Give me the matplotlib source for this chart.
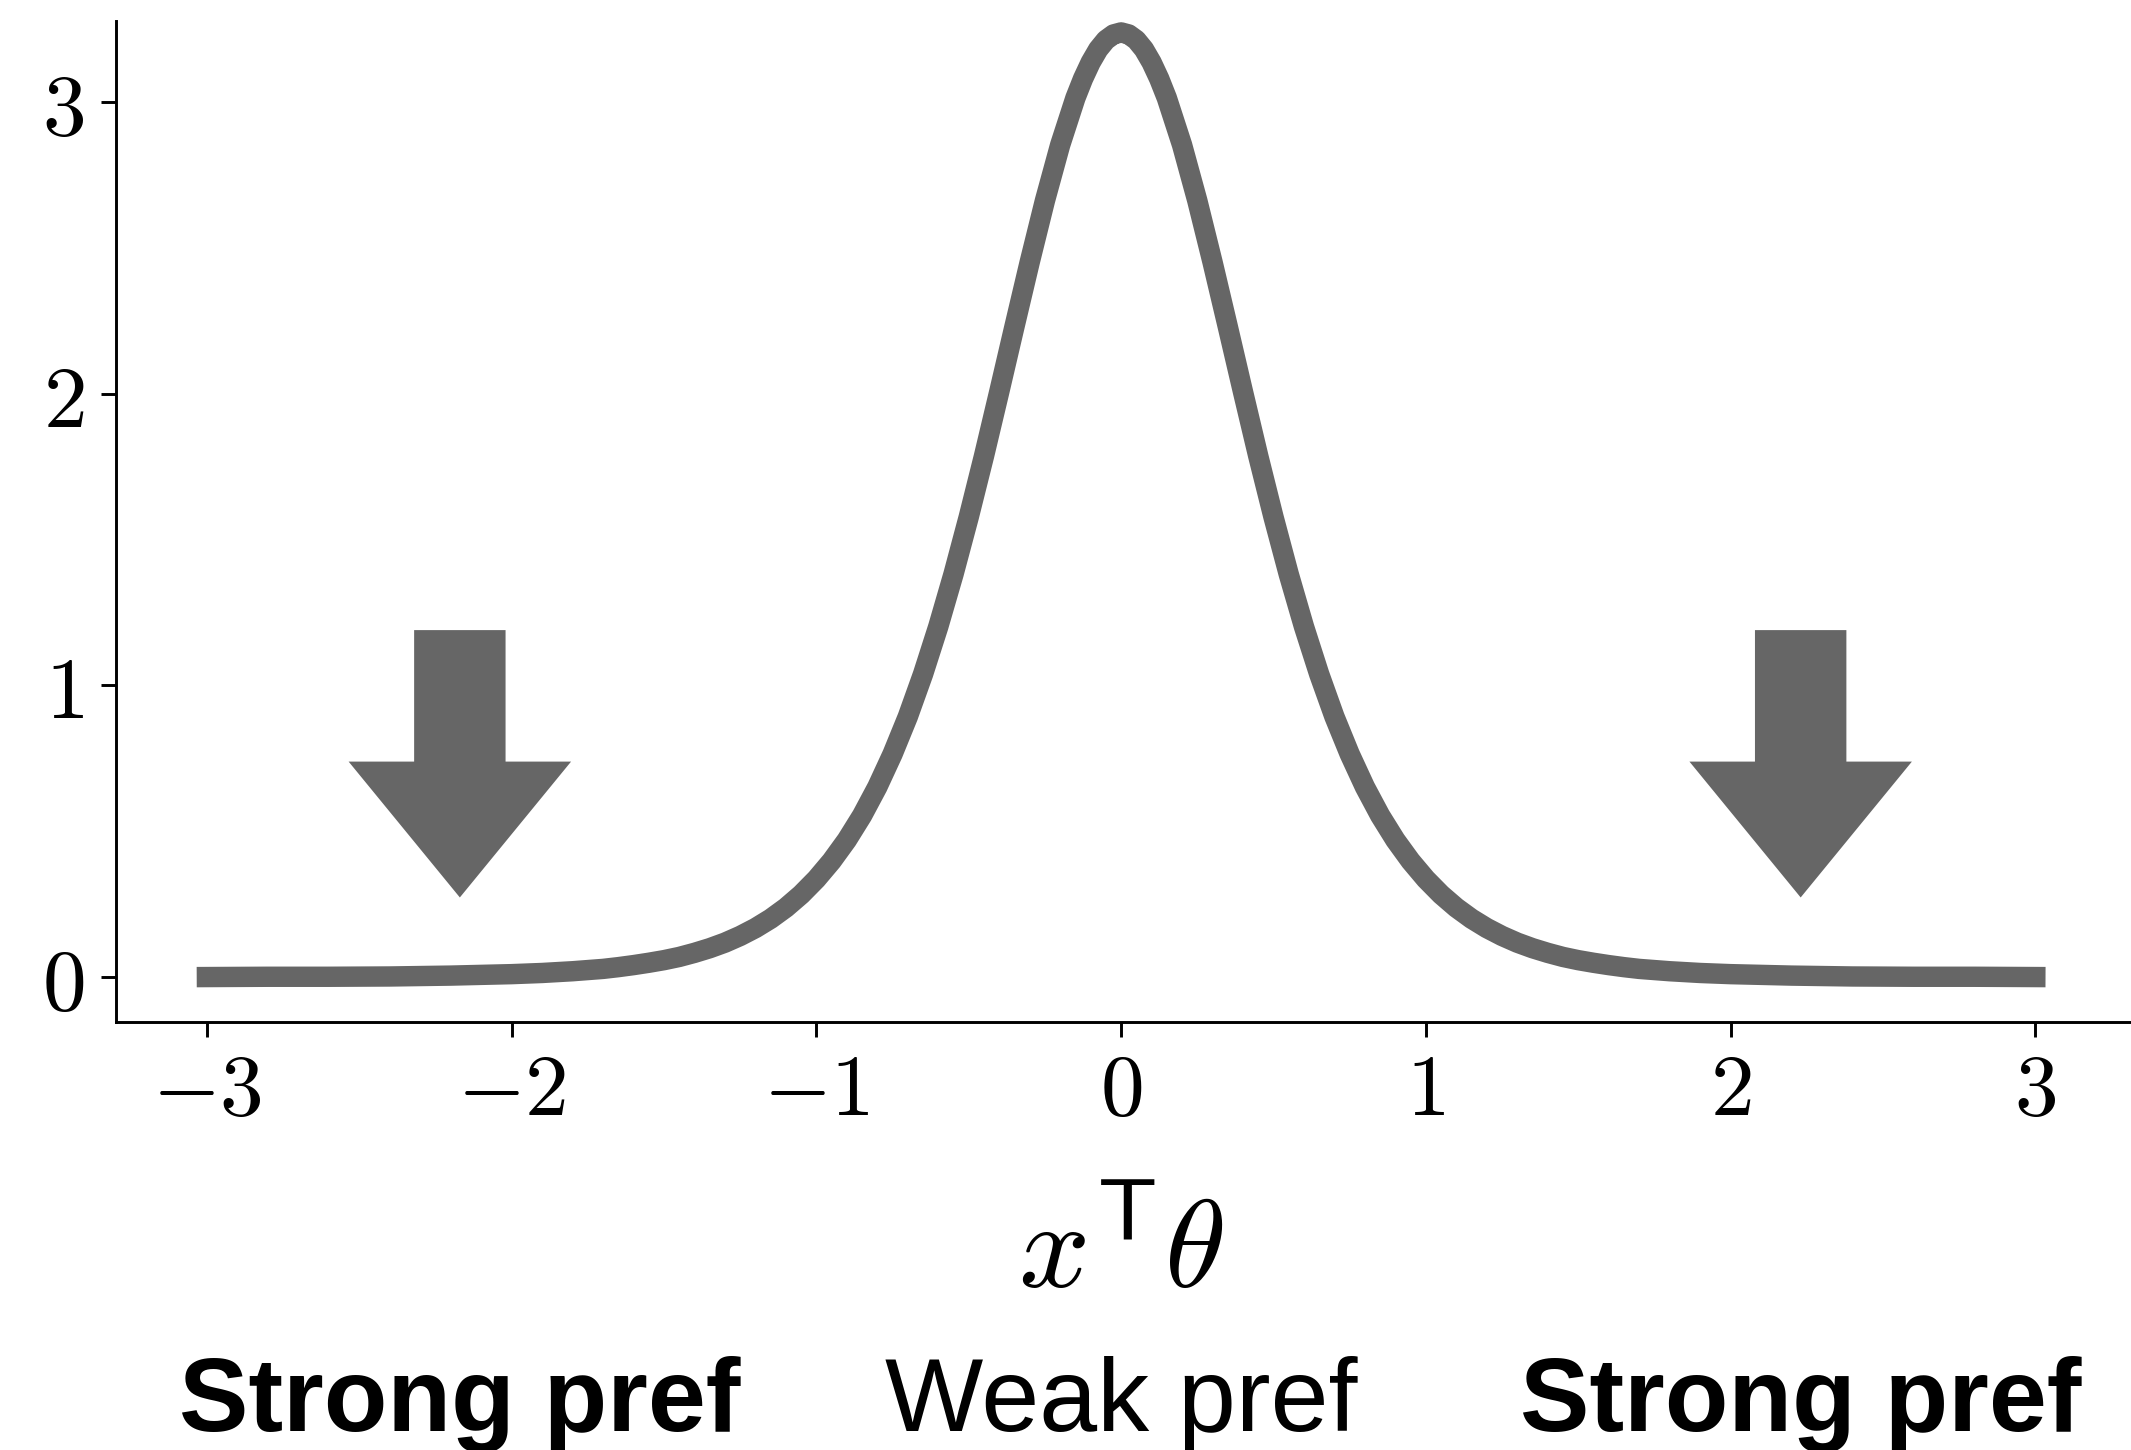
import matplotlib
matplotlib.use("Agg")
import matplotlib.pyplot as plt
import numpy as np

plt.rcParams['mathtext.fontset'] = 'cm'

# curve values read on the positive side of x (the curve is symmetric about 0)
x_half = [0.0, 0.025, 0.05, 0.075, 0.1, 0.125, 0.15, 0.2, 0.25, 0.3, 0.35,
          0.4, 0.45, 0.5, 0.55, 0.6, 0.65, 0.7, 0.75, 0.8, 0.85, 0.9, 0.95,
          1.0, 1.05, 1.1, 1.15, 1.2, 1.25, 1.3, 1.35, 1.4, 1.45, 1.5, 1.55,
          1.6, 1.65, 1.7, 1.75, 1.8, 1.85, 1.9, 1.95, 2.0, 2.2, 2.4, 2.6,
          2.8, 3.0]
y_half = [3.240, 3.233, 3.214, 3.182, 3.137, 3.081, 3.015, 2.854, 2.663,
          2.452, 2.231, 2.007, 1.787, 1.578, 1.382, 1.202, 1.039, 0.893,
          0.765, 0.652, 0.554, 0.470, 0.398, 0.336, 0.283, 0.238, 0.200,
          0.168, 0.141, 0.118, 0.099, 0.083, 0.069, 0.058, 0.049, 0.041,
          0.034, 0.028, 0.024, 0.020, 0.017, 0.014, 0.012, 0.010, 0.005,
          0.002, 0.001, 0.001, 0.000]

# downward arrows and the captions under them
arrow_x = [-2.17, 2.23]
arrow_top = 1.19
arrow_tip = 0.273
caption_x = [-2.17, 0.0, 2.23]
caption_text = ['Strong pref', 'Weak pref', 'Strong pref']
caption_weight = ['bold', 'normal', 'bold']

xticks = [-3, -2, -1, 0, 1, 2, 3]
yticks = [0, 1, 2, 3]

grey = '#666666'

x = np.concatenate([-np.array(x_half[::-1]), np.array(x_half[1:])])
y = np.concatenate([np.array(y_half[::-1]), np.array(y_half[1:])])

fig = plt.figure(figsize=(2131 / 300, 1450 / 300), dpi=300)
ax = fig.add_axes([0.0542, 0.2952, 0.9458, 0.6903])

ax.plot(x, y, color=grey, lw=4.9, solid_capstyle='projecting',
        solid_joinstyle='round')

for xa in arrow_x:
    ax.arrow(xa, arrow_top, 0, arrow_tip - arrow_top, width=0.30,
             head_width=0.73, head_length=0.466, length_includes_head=True,
             color=grey, lw=0)

ax.set_xlim(-3.3, 3.314)
ax.set_ylim(-0.154, 3.279)

ax.set_xticks(xticks, [f'${t}$' for t in xticks])
ax.set_yticks(yticks, [f'${t}$' for t in yticks])
ax.tick_params(labelsize=21, width=0.7, length=3.5, pad=4)
ax.tick_params(axis='x', pad=3)

for side in ['top', 'right']:
    ax.spines[side].set_visible(False)
for side in ['left', 'bottom']:
    ax.spines[side].set_linewidth(0.7)

ax.annotate(r'$x^{\mathsf{T}}\theta$', xy=(0.0, 0.112),
            xycoords=('data', 'figure fraction'),
            ha='center', va='baseline', fontsize=30, annotation_clip=False)

for cx, txt, wt in zip(caption_x, caption_text, caption_weight):
    ax.annotate(txt, xy=(cx, 0.0131), xycoords=('data', 'figure fraction'),
                ha='center', va='baseline', fontsize=25, fontweight=wt,
                family='Liberation Sans', annotation_clip=False)

fig.savefig('out.png', dpi=300)
